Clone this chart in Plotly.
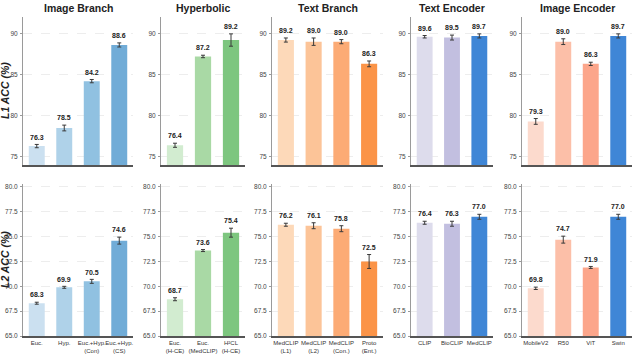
import plotly.graph_objects as go

titles = ["Image Branch", "Hyperbolic", "Text Branch", "Text Encoder", "Image Encoder"]
cats = [
    ["Euc.", "Hyp.", "Euc.+Hyp.<br>(Con)", "Euc.+Hyp.<br>(CS)"],
    ["Euc.<br>(H-CE)", "Euc.<br>(MedCLIP)", "H²CL<br>(H-CE)"],
    ["MedCLIP<br>(L1)", "MedCLIP<br>(L2)", "MedCLIP<br>(Con.)", "Proto<br>(Ent.)"],
    ["CLIP", "BioCLIP", "MedCLIP"],
    ["MobileV2", "R50", "ViT", "Swin"],
]
l1_vals = [
    [76.3, 78.5, 84.2, 88.6],
    [76.4, 87.2, 89.2],
    [89.2, 89.0, 89.0, 86.3],
    [89.6, 89.5, 89.7],
    [79.3, 89.0, 86.3, 89.7],
]
l1_err = [
    [0.2, 0.35, 0.2, 0.25],
    [0.25, 0.15, 0.75],
    [0.25, 0.45, 0.25, 0.35],
    [0.15, 0.3, 0.25],
    [0.35, 0.35, 0.2, 0.25],
]
l2_vals = [
    [68.3, 69.9, 70.5, 74.6],
    [68.7, 73.6, 75.4],
    [76.2, 76.1, 75.8, 72.5],
    [76.4, 76.3, 77.0],
    [69.8, 74.7, 71.9, 77.0],
]
l2_err = [
    [0.1, 0.1, 0.2, 0.35],
    [0.15, 0.1, 0.45],
    [0.15, 0.3, 0.3, 0.7],
    [0.15, 0.25, 0.25],
    [0.12, 0.35, 0.1, 0.25],
]
colors = [
    ["#cbe0f0", "#afd2e9", "#90c1e1", "#71acd7"],
    ["#d2ecd0", "#a9d9a5", "#7dc67f"],
    ["#fdd9b9", "#fcc498", "#fcab75", "#fb9448"],
    ["#dddcec", "#c2bfe0", "#3f86d6"],
    ["#fcdacd", "#fcbfa8", "#fca68b", "#3f86d6"],
]
l1_ticks = [75, 80, 85, 90]
l2_ticks = [65.0, 67.5, 70.0, 72.5, 75.0, 77.5, 80.0]
l1_range = [74, 92]
l2_range = [65, 80.3]

W, H = 633, 362
xpix = [(23, 133), (161, 245), (272, 383), (411, 493), (522, 632)]
ypix_top = (17, 165)
ypix_bot = (184, 336)

FONT = "Liberation Sans, Arial"
fig = go.Figure()
layout = dict(
    width=W, height=H, margin=dict(l=0, r=0, t=0, b=0),
    paper_bgcolor="white", plot_bgcolor="rgba(0,0,0,0)", showlegend=False,
    font=dict(family=FONT), template="none",
)
annotations = []

for row in range(2):
    vals_all = l1_vals if row == 0 else l2_vals
    err_all = l1_err if row == 0 else l2_err
    yr = l1_range if row == 0 else l2_range
    ypix = ypix_top if row == 0 else ypix_bot
    for c in range(5):
        idx = row * 5 + c + 1
        xa = "x" if idx == 1 else f"x{idx}"
        ya = "y" if idx == 1 else f"y{idx}"
        xkey = "xaxis" if idx == 1 else f"xaxis{idx}"
        ykey = "yaxis" if idx == 1 else f"yaxis{idx}"
        n = len(cats[c])
        xs = list(range(n))
        fig.add_trace(go.Bar(
            x=xs, y=vals_all[c], xaxis=xa, yaxis=ya,
            marker=dict(color=colors[c], line=dict(width=0)),
            width=0.58,
            error_y=dict(type="data", array=err_all[c], color="#3a3a3a",
                         thickness=1, width=2),
            hoverinfo="skip",
        ))
        span = yr[1] - yr[0]
        for i, (v, e) in enumerate(zip(vals_all[c], err_all[c])):
            annotations.append(dict(
                x=i, y=v + e + span * 0.012, xref=xa, yref=ya,
                text=f"<b>{v:.1f}</b>", showarrow=False, yanchor="bottom",
                xanchor="center",
                font=dict(size=7, color="#222", family=FONT),
            ))
        x0, x1 = xpix[c]
        layout[xkey] = dict(
            domain=[x0 / W, x1 / W], anchor=ya, range=[-0.5, n - 0.5],
            tickmode="array", tickvals=xs,
            ticktext=cats[c] if row == 1 else [""] * n,
            showticklabels=(row == 1), tickangle=0,
            showline=True, linecolor="#555", linewidth=1.6, mirror=False,
            ticks="", showgrid=False, zeroline=False, fixedrange=True,
            tickfont=dict(size=6, color="#333", family=FONT),
        )
        ticks = l1_ticks if row == 0 else l2_ticks
        layout[ykey] = dict(
            domain=[1 - ypix[1] / H, 1 - ypix[0] / H], anchor=xa, range=yr,
            tickmode="array", tickvals=ticks,
            ticktext=[f"{t:.0f}" if row == 0 else f"{t:.1f}" for t in ticks],
            showline=True, linecolor="#9a9a9a", linewidth=1, mirror=False,
            ticks="outside", ticklen=2, tickcolor="#9a9a9a", tickwidth=1,
            ticklabelstandoff=1,
            showgrid=True, gridcolor="#ededed", gridwidth=0.8, griddash="dash",
            zeroline=False, fixedrange=True,
            tickfont=dict(size=6.5, color="#444", family=FONT),
        )
        if row == 0:
            annotations.append(dict(
                x=(x0 + x1) / 2 / W, y=1 - 8 / H, xref="paper", yref="paper",
                xanchor="center", yanchor="middle",
                text=f"<b>{titles[c]}</b>", showarrow=False,
                font=dict(size=10.5, color="#222", family=FONT),
            ))

for row, label in enumerate(["L1 ACC (%)", "L2 ACC (%)"]):
    ypix = ypix_top if row == 0 else ypix_bot
    annotations.append(dict(
        x=5 / W, y=1 - (ypix[0] + ypix[1]) / 2 / H, xref="paper", yref="paper",
        xanchor="center", yanchor="middle",
        text=f"<b><i>{label}</i></b>", showarrow=False, textangle=-90,
        font=dict(size=10.5, color="#222", family=FONT),
    ))

layout["annotations"] = annotations
fig.update_layout(**layout)
fig.write_html("out.html")
